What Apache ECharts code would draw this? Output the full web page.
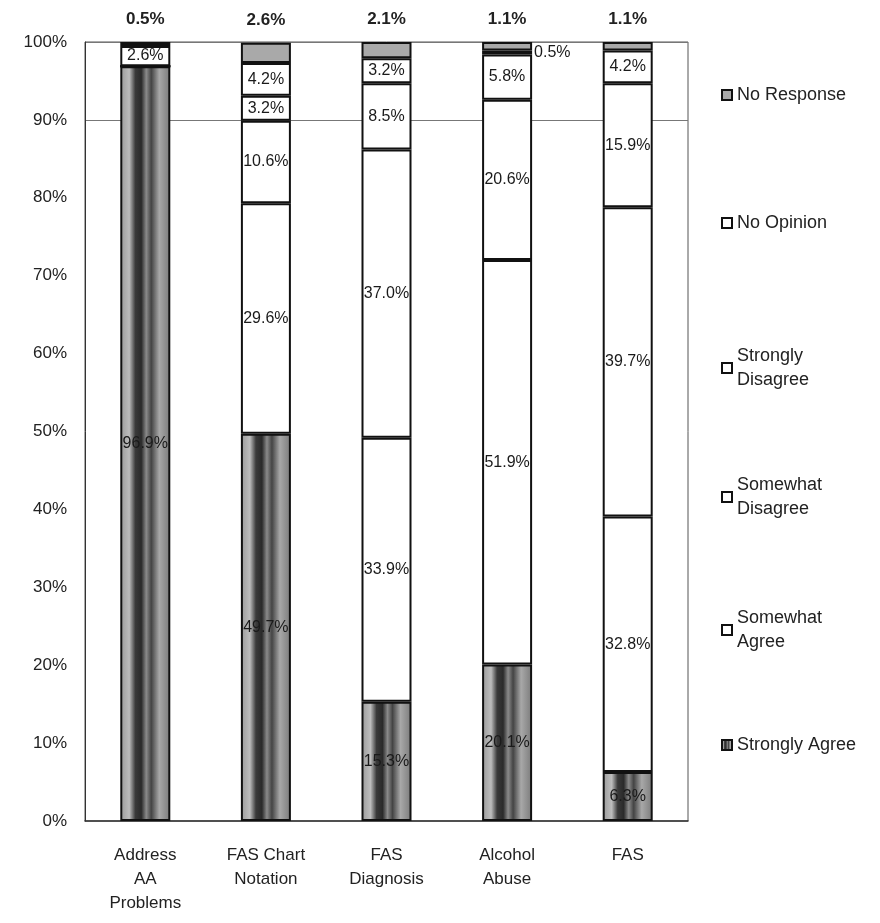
<!DOCTYPE html>
<html>
<head>
<meta charset="utf-8">
<script src="https://cdn.jsdelivr.net/npm/echarts@6/dist/echarts.min.js"></script>
<style>html,body{margin:0;padding:0;background:#fff}#c{width:880px;height:923px}</style>
</head>
<body>
<div id="c"></div>
<script>
const categories = ['Address\nAA\nProblems', 'FAS Chart\nNotation', 'FAS\nDiagnosis', 'Alcohol\nAbuse', 'FAS'];
const stronglyAgree    = [96.9, 49.7, 15.3, 20.1, 6.3];
const somewhatAgree    = [0, 29.6, 33.9, 51.9, 32.8];
const somewhatDisagree = [0, 10.6, 37.0, 20.6, 39.7];
const stronglyDisagree = [0, 3.2, 8.5, 5.8, 15.9];
const noOpinion        = [2.6, 4.2, 3.2, 0.5, 4.2];
const noResponse       = [0.5, 2.6, 2.1, 1.1, 1.1];
const yTicks = ['0%','10%','20%','30%','40%','50%','60%','70%','80%','90%','100%'];

const FONT = 'Liberation Sans, Arial, sans-serif';
const stripe = {
  type: 'linear', x: 0, y: 0, x2: 1, y2: 0,
  colorStops: [
    {offset: 0, color: '#9a9a9a'}, {offset: 0.18, color: '#bdbdbd'},
    {offset: 0.3, color: '#3a3a3a'}, {offset: 0.42, color: '#2a2a2a'},
    {offset: 0.52, color: '#8a8a8a'}, {offset: 0.62, color: '#444'},
    {offset: 0.78, color: '#a8a8a8'}, {offset: 1, color: '#7a7a7a'}
  ]
};
const fmt = p => p.value > 0 ? p.value.toFixed(1) + '%' : '';
const baseLabel = {show: true, position: 'inside', formatter: fmt, fontFamily: FONT, fontSize: 16, color: '#1a1a1a'};

function mk(name, data, color, extra) {
  return Object.assign({
    name, type: 'bar', stack: 'all', barWidth: 50, data,
    itemStyle: {color, borderColor: '#111', borderWidth: 2},
    label: Object.assign({}, baseLabel)
  }, extra || {});
}

const noOpinionData = noOpinion.map((v, i) => i === 3 ? {value: v, label: {position: 'right', distance: 2}} : v);

const series = [
  mk('Strongly Agree', stronglyAgree, stripe),
  mk('Somewhat Agree', somewhatAgree, '#fff'),
  mk('Somewhat Disagree', somewhatDisagree, '#fff'),
  mk('Strongly Disagree', stronglyDisagree, '#fff'),
  mk('No Opinion', noOpinionData, '#fff'),
  mk('No Response', noResponse, '#a9a9a9', {label: Object.assign({}, baseLabel, {position: 'top', distance: 14, fontSize: 17, fontWeight: 'bold', color: '#222'})})
];

// [name, vertical centre of the legend item, number of text lines]
const legendPos = [
  ['No Response', 95, 1], ['No Opinion', 223, 1], ['Strongly Disagree', 368, 2],
  ['Somewhat Disagree', 497, 2], ['Somewhat Agree', 630, 2], ['Strongly Agree', 745, 1]
];
const LH = 24;
const legendText = {'Strongly Disagree': 'Strongly\nDisagree', 'Somewhat Disagree': 'Somewhat\nDisagree', 'Somewhat Agree': 'Somewhat\nAgree'};
const legends = legendPos.map(([n, c, lines]) => ({
  data: [n], left: 716, top: c - lines * LH / 2 - 5, orient: 'vertical', icon: 'rect', itemWidth: 10, itemHeight: 10, itemGap: 4,
  selectedMode: false,
  formatter: nm => legendText[nm] || nm,
  textStyle: {fontFamily: FONT, fontSize: 18, color: '#222', lineHeight: LH}
}));

const splitColors = yTicks.map((t, i) => (i >= 9 ? '#777' : 'rgba(0,0,0,0)'));

const chart = echarts.init(document.getElementById('c'));
chart.setOption({
  animation: false,
  backgroundColor: '#fff',
  grid: {left: 85, right: 192, top: 42, bottom: 102, show: true, borderColor: '#555', borderWidth: 1},
  legend: legends,
  xAxis: {
    type: 'category', data: categories,
    axisLine: {lineStyle: {color: '#333', width: 1.5}},
    axisTick: {show: false},
    axisLabel: {fontFamily: FONT, fontSize: 17, color: '#222', lineHeight: 24, margin: 22, interval: 0}
  },
  yAxis: {
    type: 'value', min: 0, max: 100, interval: 10,
    axisLine: {show: true, lineStyle: {color: '#333'}},
    axisTick: {show: false},
    axisLabel: {fontFamily: FONT, fontSize: 17, color: '#222', margin: 18, formatter: v => yTicks[Math.round(v / 10)]},
    splitLine: {show: true, lineStyle: {color: splitColors, width: 1}}
  },
  series
});
</script>
</body>
</html>
